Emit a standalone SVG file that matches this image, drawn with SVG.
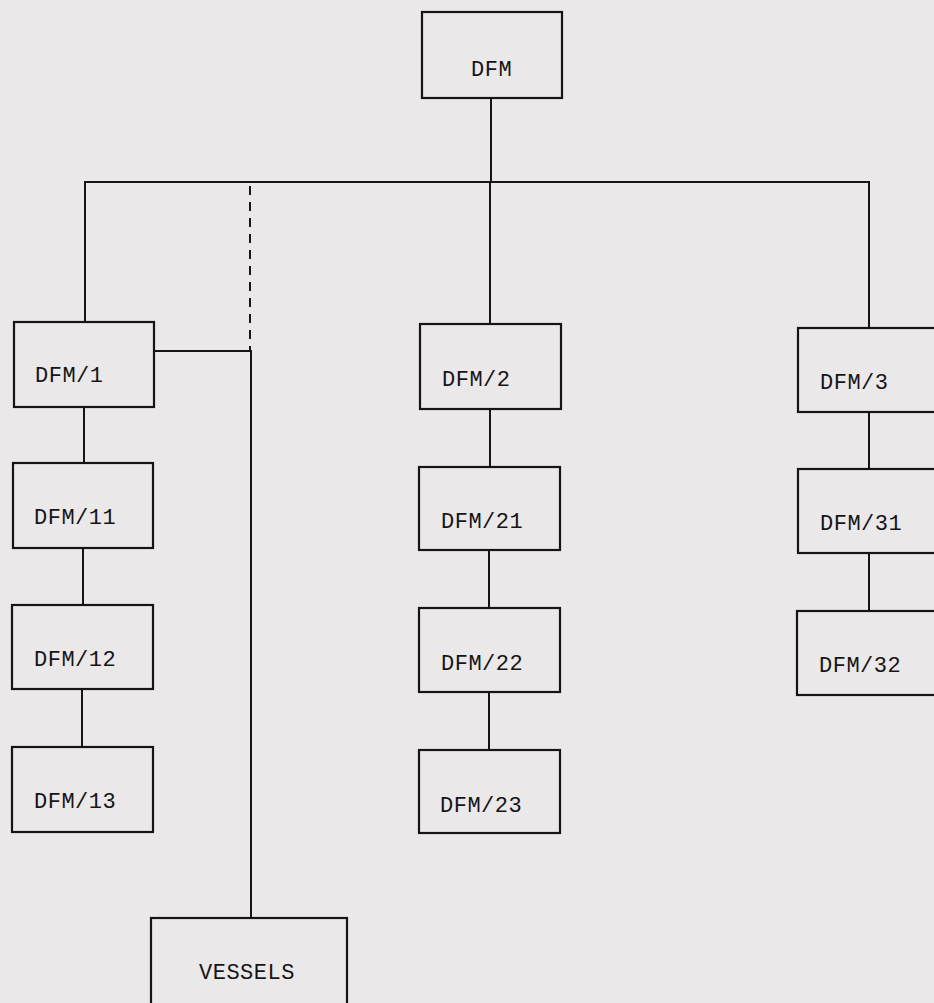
<svg xmlns="http://www.w3.org/2000/svg" width="934" height="1003" viewBox="0 0 934 1003">
<style>
.box{fill:none;stroke:#151515;stroke-width:2.2}
.lbl{font-family:"Liberation Mono","Courier New",monospace;font-size:22px;fill:#151515;letter-spacing:0.5px}
.ln{stroke:#151515;stroke-width:2;fill:none}
.dash{stroke:#151515;stroke-width:2;fill:none;stroke-dasharray:9 7}
</style>
<rect x="0" y="0" width="934" height="1003" fill="#ebe8ea"/>
<g id="connectors">
<line class="ln" x1="491" y1="98" x2="491" y2="182"/>
<line class="ln" x1="84" y1="182" x2="870" y2="182"/>
<line class="ln" x1="85" y1="182" x2="85" y2="322"/>
<line class="ln" x1="490" y1="182" x2="490" y2="324"/>
<line class="ln" x1="869" y1="182" x2="869" y2="328"/>
<line class="dash" x1="250" y1="186" x2="250" y2="350"/>
<line class="ln" x1="154" y1="351" x2="251" y2="351"/>
<line class="ln" x1="251" y1="350" x2="251" y2="918"/>
<line class="ln" x1="84" y1="407" x2="84" y2="463"/>
<line class="ln" x1="83" y1="548" x2="83" y2="605"/>
<line class="ln" x1="82" y1="689" x2="82" y2="747"/>
<line class="ln" x1="490" y1="409" x2="490" y2="467"/>
<line class="ln" x1="489" y1="550" x2="489" y2="608"/>
<line class="ln" x1="489" y1="692" x2="489" y2="750"/>
<line class="ln" x1="869" y1="412" x2="869" y2="469"/>
<line class="ln" x1="869" y1="553" x2="869" y2="611"/>
</g>
<g id="dfm"><rect class="box" x="422" y="12" width="140" height="86"/><text class="lbl" x="471" y="76">DFM</text></g>
<g id="dfm1"><rect class="box" x="14" y="322" width="140" height="85"/><text class="lbl" x="35" y="382">DFM/1</text></g>
<g id="dfm11"><rect class="box" x="13" y="463" width="140" height="85"/><text class="lbl" x="34" y="524">DFM/11</text></g>
<g id="dfm12"><rect class="box" x="12" y="605" width="141" height="84"/><text class="lbl" x="34" y="666">DFM/12</text></g>
<g id="dfm13"><rect class="box" x="12" y="747" width="141" height="85"/><text class="lbl" x="34" y="808">DFM/13</text></g>
<g id="dfm2"><rect class="box" x="420" y="324" width="141" height="85"/><text class="lbl" x="442" y="386">DFM/2</text></g>
<g id="dfm21"><rect class="box" x="419" y="467" width="141" height="83"/><text class="lbl" x="441" y="528">DFM/21</text></g>
<g id="dfm22"><rect class="box" x="419" y="608" width="141" height="84"/><text class="lbl" x="441" y="670">DFM/22</text></g>
<g id="dfm23"><rect class="box" x="419" y="750" width="141" height="83"/><text class="lbl" x="440" y="812">DFM/23</text></g>
<g id="dfm3"><rect class="box" x="798" y="328" width="150" height="84"/><text class="lbl" x="820" y="389">DFM/3</text></g>
<g id="dfm31"><rect class="box" x="798" y="469" width="150" height="84"/><text class="lbl" x="820" y="530">DFM/31</text></g>
<g id="dfm32"><rect class="box" x="797" y="611" width="150" height="84"/><text class="lbl" x="819" y="672">DFM/32</text></g>
<g id="vessels"><rect class="box" x="151" y="918" width="196" height="100"/><text class="lbl" x="199" y="979">VESSELS</text></g>
</svg>
